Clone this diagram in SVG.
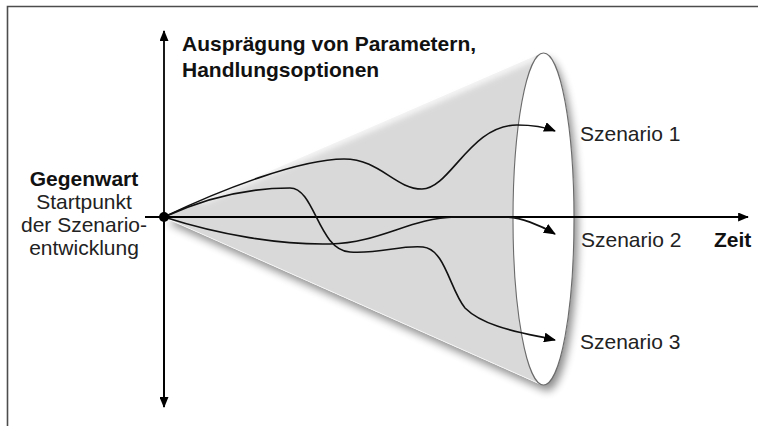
<svg xmlns="http://www.w3.org/2000/svg" width="758" height="426" viewBox="0 0 758 426">
  <style>
    .t { font-family: "Liberation Sans", Arial, sans-serif; font-size: 21px; fill: #222; }
    .b { font-weight: bold; fill: #111; }
    .axis { stroke: #000; stroke-width: 1.8; fill: none; }
    .curve { stroke: #111; stroke-width: 1.6; fill: none; marker-end: url(#arr); }
  </style>
  <defs>
    <marker id="arr" viewBox="0 0 12 10" refX="11" refY="5" markerWidth="12" markerHeight="10" markerUnits="userSpaceOnUse" orient="auto">
      <path d="M0,0 L12,5 L0,10 Z" fill="#000"/>
    </marker>
    <marker id="arrAxis" viewBox="0 0 12 10" refX="11" refY="5" markerWidth="11" markerHeight="9" markerUnits="userSpaceOnUse" orient="auto">
      <path d="M0,0 L12,5 L0,10 Z" fill="#000"/>
    </marker>
    <filter id="shadow" x="-10%" y="-10%" width="130%" height="130%">
      <feGaussianBlur in="SourceAlpha" stdDeviation="4"/>
      <feOffset dx="4" dy="6" result="o"/>
      <feComponentTransfer><feFuncA type="linear" slope="0.45"/></feComponentTransfer>
      <feMerge><feMergeNode/><feMergeNode in="SourceGraphic"/></feMerge>
    </filter>
    <filter id="soft" x="-5%" y="-20%" width="110%" height="140%">
      <feGaussianBlur stdDeviation="3"/>
    </filter>
  </defs>
  <rect width="758" height="426" fill="#fff"/>
  <!-- frame -->
  <path d="M7.5,426 V6.5 H758" fill="none" stroke="#4d4d4d" stroke-width="1.6"/>

  <g id="cone">
    <g filter="url(#shadow)">
      <path d="M164,217 L541,53.5 L541,384.5 Z" fill="#d9d9d9"/>
      <ellipse cx="543.5" cy="219" rx="30.5" ry="166" fill="#fff"/>
    </g>
    <path d="M200,201 L536,56" stroke="#fff" stroke-width="7" filter="url(#soft)" opacity="0.9"/>
    <path d="M168,219 L541,384.5" stroke="#fff" stroke-width="1" opacity="0.8"/>
    <ellipse cx="543.5" cy="219" rx="30.5" ry="166" fill="none" stroke="#6b6b6b" stroke-width="1.1"/>
  </g>

  <g id="axes">
    <line class="axis" x1="164" y1="407" x2="164" y2="31" marker-end="url(#arrAxis)"/>
    <line class="axis" x1="164" y1="217" x2="164" y2="407" marker-end="url(#arrAxis)"/>
    <line class="axis" x1="145" y1="217" x2="748" y2="217" marker-end="url(#arrAxis)"/>
  </g>

  <g id="connectors">
    <path id="s1" class="curve" d="M164,217 C220,190 300,159 344,159 C380,159 395,189 422,189 C450,189 470,125 517,125 C530,125 545,127 555,131"/>
    <path id="s2" class="curve" d="M164,217 C220,235 280,245 330,244 C380,243 410,218 455,217 L505,217 C520,217 540,225 555,234"/>
    <path id="s3" class="curve" d="M164,217 C210,196 250,188 290,188 C315,188 318,250 350,252 C380,254 400,245 423,247 C445,249 450,290 465,308 C485,328 525,333 555,340"/>
  </g>

  <g id="origin">
    <circle cx="164" cy="217" r="5" fill="#000"/>
  </g>

  <g id="label-yaxis">
    <text class="t b" x="182" y="51">Ausprägung von Parametern,</text>
    <text class="t b" x="182" y="77">Handlungsoptionen</text>
  </g>
  <g id="label-gegenwart" text-anchor="middle">
    <text class="t b" x="84" y="186">Gegenwart</text>
    <text class="t" x="84" y="209">Startpunkt</text>
    <text class="t" x="84" y="232">der Szenario-</text>
    <text class="t" x="84" y="255">entwicklung</text>
  </g>
  <g id="label-s1"><text class="t" x="580" y="141">Szenario 1</text></g>
  <g id="label-s2"><text class="t" x="581" y="247">Szenario 2</text></g>
  <g id="label-s3"><text class="t" x="580" y="349">Szenario 3</text></g>
  <g id="label-zeit"><text class="t b" x="714" y="247">Zeit</text></g>
</svg>
